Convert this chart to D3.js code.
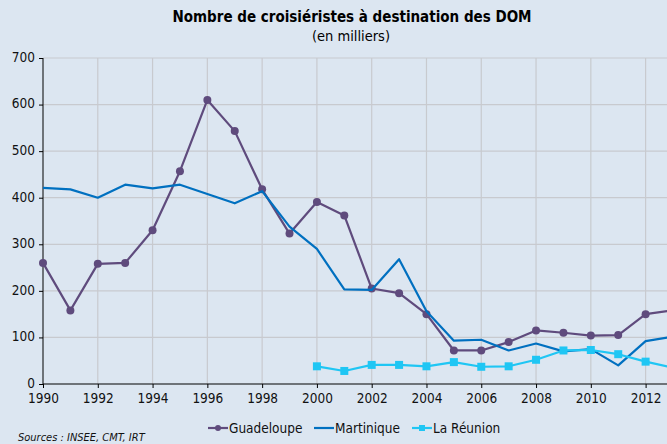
<!DOCTYPE html>
<html>
<head>
<meta charset="utf-8">
<script src="https://cdn.jsdelivr.net/npm/d3@7"></script>
<style>
  body { margin: 0; background: #dce6f1; }
  svg { display: block; }
</style>
</head>
<body>
<div id="chart"></div>
<script>
const years = d3.range(1990, 2014)
const guadeloupe = [260, 158, 258, 260, 330, 457, 610, 543, 418, 323, 391, 362, 205, 195, 150, 72, 72, 90, 115, 110, 104, 105, 150, 158]
const martinique = [421, 418, 400, 428, 420, 428, 408, 388, 414, 338, 290, 203, 202, 268, 156, 93, 95, 72, 87, 70, 75, 40, 92, 102]
const reunionYears = d3.range(2000, 2014)
const reunion = [38, 28, 41, 41, 38, 47, 37, 38, 52, 72, 73, 64, 48, 35]
const yTicks = [0, 100, 200, 300, 400, 500, 600, 700]
const xTicks = d3.range(1990, 2013, 2)

const width = 667
const height = 444
const font = "'DejaVu Sans Condensed', Tahoma, sans-serif"

const series = [
    { name: 'Guadeloupe', color: '#5f4b7d', marker: 'circle', values: years.map((y, i) => ({ year: y, value: guadeloupe[i] })) },
    { name: 'Martinique', color: '#0070c0', marker: null, values: years.map((y, i) => ({ year: y, value: martinique[i] })) },
    { name: 'La Réunion', color: '#1fc6f4', marker: 'square', values: reunionYears.map((y, i) => ({ year: y, value: reunion[i] })) }
]

const x = d3.scaleLinear().domain([1990, 2013]).range([43, 673])
const y = d3.scaleLinear().domain([0, 700]).range([384, 58])

const svg = d3.select('#chart').append('svg').attr('width', width).attr('height', height)
    .style('font-family', font)

svg.append('rect').attr('width', width).attr('height', height).attr('fill', '#dce6f1')

// grid
svg.append('g')
    .selectAll('line')
    .data(yTicks.slice(1))
    .join('line')
    .attr('x1', x(1990)).attr('x2', width)
    .attr('y1', d => y(d)).attr('y2', d => y(d))
    .attr('stroke', '#c8cacf').attr('stroke-width', 1.2)
svg.append('g')
    .selectAll('line')
    .data(xTicks.slice(1))
    .join('line')
    .attr('x1', d => x(d)).attr('x2', d => x(d))
    .attr('y1', y(700)).attr('y2', y(0))
    .attr('stroke', '#c8cacf').attr('stroke-width', 1.2)

// axes
const yAxis = svg.append('g')
    .attr('transform', `translate(${x(1990)},0)`)
    .call(d3.axisLeft(y).tickValues(yTicks).tickSize(4).tickPadding(4))
const xAxis = svg.append('g')
    .attr('transform', `translate(0,${y(0)})`)
    .call(d3.axisBottom(x).tickValues(xTicks).tickFormat(d3.format('d')).tickSize(4).tickPadding(5))
;[xAxis, yAxis].forEach(a => {
    a.select('.domain').remove()
    a.selectAll('text').style('font-size', '13.5px').style('font-family', font).attr('fill', '#111')
    a.selectAll('line').attr('stroke', '#000')
})
yAxis.selectAll('text').attr('dy', '0.25em')
svg.append('line').attr('x1', x(1990)).attr('x2', x(1990)).attr('y1', y(700)).attr('y2', y(0)).attr('stroke', '#000')
svg.append('line').attr('x1', x(1990)).attr('x2', width).attr('y1', y(0)).attr('y2', y(0)).attr('stroke', '#000')

// lines
const line = d3.line().x(d => x(d.year)).y(d => y(d.value))
series.forEach(s => {
    svg.append('path')
        .datum(s.values)
        .attr('d', line)
        .attr('fill', 'none')
        .attr('stroke', s.color)
        .attr('stroke-width', 2.2)
        .attr('stroke-linejoin', 'round')
    if (s.marker === 'circle') {
        svg.append('g').selectAll('circle')
            .data(s.values)
            .join('circle')
            .attr('cx', d => x(d.year)).attr('cy', d => y(d.value))
            .attr('r', 4).attr('fill', s.color)
    } else if (s.marker === 'square') {
        svg.append('g').selectAll('rect')
            .data(s.values)
            .join('rect')
            .attr('x', d => x(d.year) - 4).attr('y', d => y(d.value) - 4)
            .attr('width', 8).attr('height', 8).attr('fill', s.color)
    }
})

// title
svg.append('text').attr('x', 352).attr('y', 22).attr('text-anchor', 'middle')
    .style('font-size', '15px').style('font-weight', 'bold').attr('fill', '#000')
    .text('Nombre de croisiéristes à destination des DOM')
svg.append('text').attr('x', 351).attr('y', 41).attr('text-anchor', 'middle')
    .style('font-size', '14.5px').attr('fill', '#000')
    .text('(en milliers)')

// legend
const legendX = [208, 314, 412]
const legend = svg.append('g')
    .selectAll('g')
    .data(series)
    .join('g')
    .attr('transform', (d, i) => `translate(${legendX[i]},428)`)
legend.append('line').attr('x1', 0).attr('x2', 20).attr('stroke', d => d.color).attr('stroke-width', 2.2)
legend.filter(d => d.marker === 'circle').append('circle').attr('cx', 10).attr('r', 3).attr('fill', d => d.color)
legend.filter(d => d.marker === 'square').append('rect').attr('x', 7).attr('y', -3).attr('width', 6).attr('height', 6).attr('fill', d => d.color)
legend.append('text').attr('x', 21).attr('dy', '0.35em')
    .style('font-size', '13.5px').attr('fill', '#111')
    .text(d => d.name)

// source
svg.append('text').attr('x', 18).attr('y', 441)
    .style('font-size', '11px').style('font-style', 'italic').attr('fill', '#111')
    .text('Sources : INSEE, CMT, IRT')
</script>
</body>
</html>
